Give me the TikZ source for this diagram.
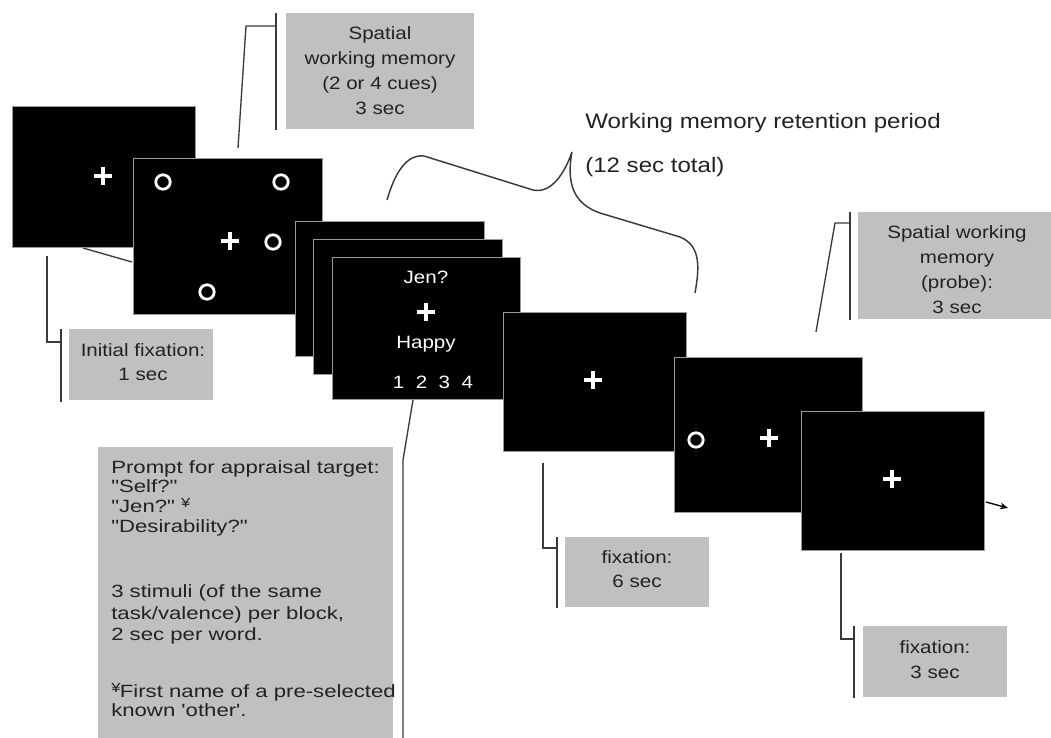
\documentclass[tikz,border=0pt]{standalone}
\usepackage{fontspec}
\setmainfont{Liberation Sans}[FakeStretch=1.15,Ligatures=TeXOff]
\newfontfamily\widefont{Liberation Sans}[FakeStretch=1.25,Ligatures=TeXOff]
\usetikzlibrary{arrows.meta,calc}
\definecolor{boxgray}{HTML}{C0C0C0}
\definecolor{ink}{HTML}{222222}
\definecolor{linec}{HTML}{3A3A3A}
\definecolor{edgec}{HTML}{9A9A9A}
\tikzset{
 screen/.style={fill=black, draw=edgec, line width=0.8pt, inner sep=0pt, anchor=north west},
 infobox/.style={fill=boxgray, draw=none, inner sep=0pt, anchor=north west},
 boxtext/.style={text=ink, font=\fontsize{13.4}{18.75}\selectfont, align=center, inner sep=0pt},
 scrtext/.style={text=white, font=\fontsize{13.4}{16}\selectfont, inner sep=0pt},
 titletext/.style={text=ink, font=\fontsize{15.7}{19}\selectfont, inner sep=0pt, anchor=west},
 lead/.style={draw=linec, line width=1pt},
 ring/.style={draw=white, line width=2.1pt},
 pics/crs/.style={code={\draw[white, line width=2.3pt] (-6.8pt,0)--(6.8pt,0) (0,-6.8pt)--(0,6.8pt);}},
 pics/crsbig/.style={code={\draw[white, line width=3.2pt] (-6.5pt,0)--(6.5pt,0) (0,-6.5pt)--(0,6.5pt);}},
}
\newcommand\screenbox[5]{\node[screen, minimum width={(#4-#2)*0.75pt}, minimum height={(#5-#3)*0.75pt}] (#1) at (#2,#3) {};}
\newcommand\grayinfo[5]{\node[infobox, minimum width={(#4-#2)*0.75pt}, minimum height={(#5-#3)*0.75pt}] (#1) at (#2,#3) {};}
\newcommand\yenmark{\raisebox{0.55ex}{\fontsize{10}{10}\selectfont ¥}}
\begin{document}
\begin{tikzpicture}[x=0.75pt,y=-0.75pt]
\useasboundingbox (0,0) rectangle (1051,738);

% ---------- gray information boxes ----------
\grayinfo{bwm}{286}{13}{474}{129}
\node[boxtext] (bwmt) at (380,71) {Spatial\\working memory\\(2 or 4 cues)\\3 sec};

\grayinfo{binit}{69}{329}{213}{400}
\node[boxtext, font=\fontsize{13.4}{18}\selectfont] (binitt) at (143,362) {Initial fixation:\\1 sec};

\grayinfo{bword}{98}{447}{393}{738}
\node[anchor=north west, inner sep=0pt, align=left, text=ink, font=\widefont\fontsize{13.3}{14.8}\selectfont] (bwordt) at (111,460)
 {Prompt for appraisal target:\\"Self?"\\"Jen?" \yenmark\\"Desirability?"\\[34pt]3 stimuli (of the same\\[1.5pt]task/valence) per block,\\[1.5pt]2 sec per word.\\[27.5pt]\yenmark\kern-0.5pt First name of a pre-selected\\known 'other'.};

\grayinfo{bfix6}{565}{537}{709}{607}
\node[boxtext, font=\fontsize{13.4}{17.5}\selectfont] (bfix6t) at (637,569) {fixation:\\6 sec};

\grayinfo{bprobe}{858}{212}{1051}{319}
\node[boxtext] (bprobet) at (957,270) {Spatial working\\memory\\(probe):\\3 sec};

\grayinfo{bfix3}{863}{626}{1007}{697}
\node[boxtext, font=\fontsize{13.4}{18.75}\selectfont] (bfix3t) at (935,660) {fixation:\\3 sec};

% ---------- retention period label and brace ----------
\node[titletext] (ret1) at (585,123) {Working memory retention period};
\node[titletext] (ret2) at (585,167) {(12 sec total)};
\coordinate (brL) at (387,200);
\coordinate (brTip) at (572,152);
\coordinate (brR) at (695,293);
\draw[lead, line width=1.1pt] (brL) .. controls (394,176) and (405,154) .. (424,156)
  -- (533,190) .. controls (552,194) and (565,172) .. (brTip)
  .. controls (566,184) and (574,204) .. (600,213)
  -- (680,237) .. controls (702,246) and (699,270) .. (brR);

% ---------- leader lines ----------
\coordinate (i0) at (47,256); \coordinate (i1) at (47,342); \coordinate (i2) at (61,342);
\coordinate (ib0) at (61,329); \coordinate (ib1) at (61,402);
\draw[lead] (i0) -- (i1) -- (i2);
\draw[lead] (ib0) -- (ib1);
\coordinate (x0) at (83,248); \coordinate (x1) at (132,262);
\draw[lead] (x0) -- (x1);

\coordinate (t0) at (238,148); \coordinate (t1) at (246,26); \coordinate (t2) at (276,26);
\coordinate (tb0) at (276,13); \coordinate (tb1) at (276,130);
\draw[lead] (t0) -- (t1) -- (t2);
\draw[lead] (tb0) -- (tb1);

\coordinate (w0) at (413,400); \coordinate (w1) at (403,460); \coordinate (w2) at (403,738);
\draw[lead] (w0) -- (w1) -- (w2);

\coordinate (f0) at (543,463); \coordinate (f1) at (543,548); \coordinate (f2) at (557,548);
\coordinate (fb0) at (557,537); \coordinate (fb1) at (557,608);
\draw[lead] (f0) -- (f1) -- (f2);
\draw[lead] (fb0) -- (fb1);

\coordinate (g0) at (841,553); \coordinate (g1) at (841,639); \coordinate (g2) at (854,639);
\coordinate (gb0) at (854,626); \coordinate (gb1) at (854,698);
\draw[lead] (g0) -- (g1) -- (g2);
\draw[lead] (gb0) -- (gb1);

\coordinate (p0) at (816,332); \coordinate (p1) at (835,223); \coordinate (p2) at (850,223);
\coordinate (pb0) at (850,212); \coordinate (pb1) at (850,320);
\draw[lead] (p0) -- (p1) -- (p2);
\draw[lead] (pb0) -- (pb1);

% ---------- screens ----------
\screenbox{s1}{12}{106}{195}{247}
\pic at (103,176) {crs};

\screenbox{s2}{133}{158}{322}{314}
\pic at (230,241) {crs};
\draw[ring] (163,182) circle[radius=5.4pt];
\draw[ring] (281,182) circle[radius=5.4pt];
\draw[ring] (273,242) circle[radius=5.4pt];
\draw[ring] (207,292) circle[radius=5.4pt];

\screenbox{wa}{295}{221}{484}{356}
\screenbox{wb}{313}{239}{502}{374}
\screenbox{wc}{332}{257}{520}{399}
\node[scrtext] (jen) at (426,277) {Jen?};
\pic at (426,312) {crsbig};
\node[scrtext] (happy) at (426,344) {Happy};
\node[scrtext] (scale) at (433,382) {1\hspace{8.6pt}2\hspace{8.6pt}3\hspace{8.6pt}4};

\screenbox{fx}{503}{312}{686}{451}
\pic at (593,380) {crs};

\screenbox{pr}{674}{357}{862}{512}
\draw[ring] (696,440) circle[radius=5.4pt];
\pic at (769,438) {crs};

\screenbox{fin}{801}{411}{984}{550}
\pic at (892,479) {crs};

\coordinate (a0) at (986,502); \coordinate (a1) at (1008,508);
\draw[line width=1pt, -{Stealth[length=6pt,width=5pt]}] (a0) -- (a1);
\end{tikzpicture}
\end{document}
